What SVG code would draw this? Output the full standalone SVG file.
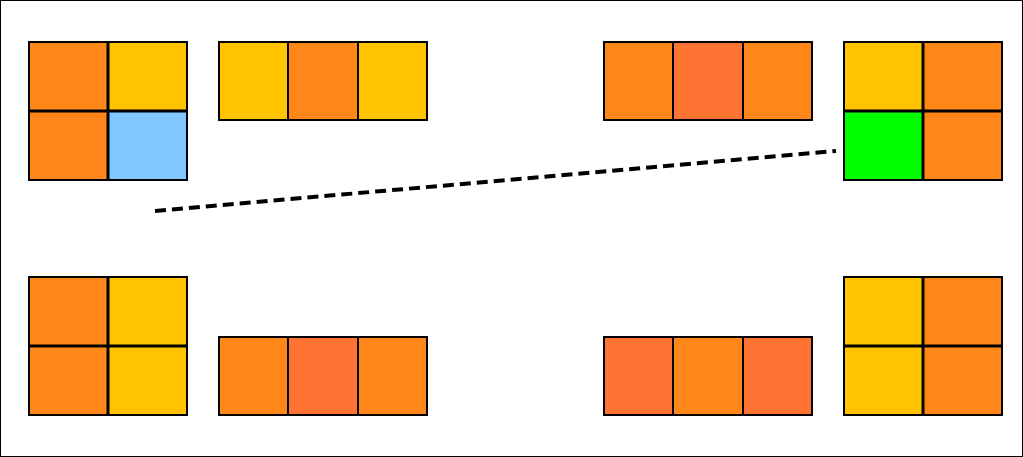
<svg xmlns="http://www.w3.org/2000/svg" width="1023" height="457" viewBox="0 0 1023 457">
<style>
rect{stroke:#000;stroke-width:2}
.o{fill:#FF8619}.y{fill:#FFC300}.b{fill:#80C8FF}.g{fill:#00FF00}.r{fill:#FF7433}
.d{stroke:#000;stroke-width:3}
</style>
<rect width="1023" height="457" fill="#fff" stroke="none"/>
<g id="grid-tl">
<rect class="o" x="29" y="42" width="79" height="69"/><rect class="y" x="108" y="42" width="79" height="69"/>
<rect class="o" x="29" y="111" width="79" height="69"/><rect class="b" x="108" y="111" width="79" height="69"/>
<path class="d" d="M108 42V180M29 111H187"/>
</g>
<g id="strip-tl">
<rect class="y" x="219" y="42" width="69" height="78"/><rect class="o" x="288" y="42" width="70" height="78"/><rect class="y" x="358" y="42" width="69" height="78"/>
</g>
<g id="strip-tr">
<rect class="o" x="604" y="42" width="69" height="78"/><rect class="r" x="673" y="42" width="70" height="78"/><rect class="o" x="743" y="42" width="69" height="78"/>
</g>
<g id="grid-tr">
<rect class="y" x="844" y="42" width="79" height="69"/><rect class="o" x="923" y="42" width="79" height="69"/>
<rect class="g" x="844" y="111" width="79" height="69"/><rect class="o" x="923" y="111" width="79" height="69"/>
<path class="d" d="M923 42V180M844 111H1002"/>
</g>
<g id="grid-bl">
<rect class="o" x="29" y="277" width="79" height="69"/><rect class="y" x="108" y="277" width="79" height="69"/>
<rect class="o" x="29" y="346" width="79" height="69"/><rect class="y" x="108" y="346" width="79" height="69"/>
<path class="d" d="M108 277V415M29 346H187"/>
</g>
<g id="strip-bl">
<rect class="o" x="219" y="337" width="69" height="78"/><rect class="r" x="288" y="337" width="70" height="78"/><rect class="o" x="358" y="337" width="69" height="78"/>
</g>
<g id="strip-br">
<rect class="r" x="604" y="337" width="69" height="78"/><rect class="o" x="673" y="337" width="70" height="78"/><rect class="r" x="743" y="337" width="69" height="78"/>
</g>
<g id="grid-br">
<rect class="y" x="844" y="277" width="79" height="69"/><rect class="o" x="923" y="277" width="79" height="69"/>
<rect class="y" x="844" y="346" width="79" height="69"/><rect class="o" x="923" y="346" width="79" height="69"/>
<path class="d" d="M923 277V415M844 346H1002"/>
</g>
<g id="connectors">
<line x1="155" y1="211" x2="836" y2="151" stroke="#000" stroke-width="4" stroke-dasharray="11 6"/>
</g>
</svg>
